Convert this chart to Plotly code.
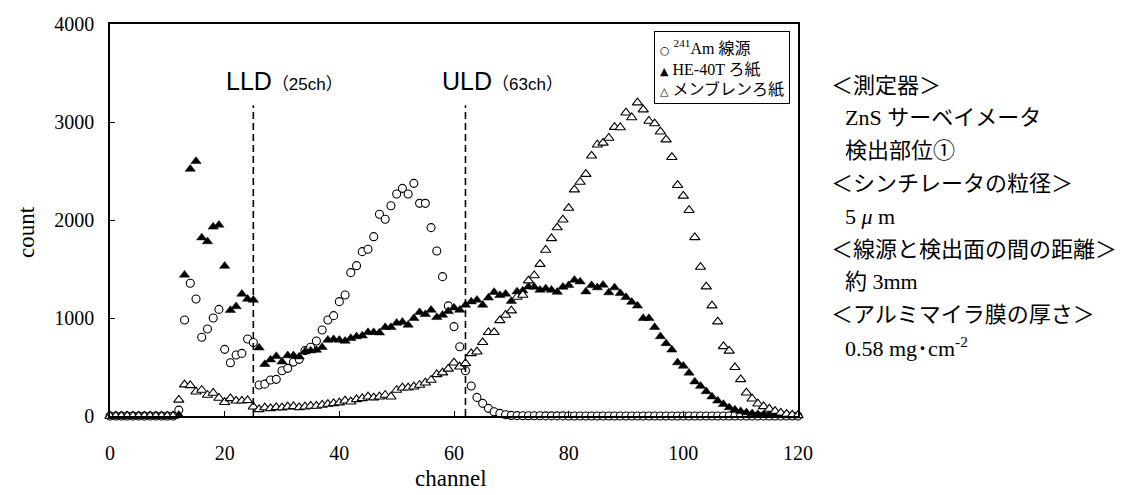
import plotly.graph_objects as go

# ---- data: counts per channel (0..120) ----
channel = list(range(121))

am241 = [
    0, 0, 0, 0, 0, 0, 0, 0, 0, 0,
    0, 0, 60, 980, 1354, 1194, 803, 888, 1000, 1088,
    680, 544, 622, 639, 786, 750, 316, 325, 367, 374,
    462, 486, 550, 578, 667, 701, 765, 878, 980, 1024,
    1167, 1235, 1463, 1534, 1677, 1701, 1830, 2058, 2007, 2146,
    2265, 2323, 2265, 2374, 2170, 2170, 1922, 1684, 1422, 1124,
    912, 707, 462, 306, 190, 129, 78, 44, 27, 12,
    6, 4, 3, 2, 2, 2, 1, 1, 1, 1,
    0, 0, 0, 0, 0, 0, 0, 0, 0, 0,
    0, 0, 0, 0, 0, 0, 0, 0, 0, 0,
    0, 0, 0, 0, 0, 0, 0, 0, 0, 0,
    0, 0, 0, 0, 0, 0, 0, 0, 0, 0,
    0,
]

he40t = [
    0, 0, 0, 0, 0, 0, 0, 0, 0, 0,
    0, 0, 10, 1440, 2520, 2600, 1820, 1780, 1930, 1950,
    1530, 1080, 1118, 1245, 1194, 1184, 697, 528, 575, 610,
    554, 617, 617, 605, 656, 667, 673, 701, 776, 782,
    776, 765, 793, 810, 820, 854, 854, 850, 905, 905,
    949, 959, 929, 997, 1058, 1037, 1082, 1007, 1031, 1068,
    1105, 1082, 1133, 1167, 1184, 1133, 1206, 1264, 1231, 1245,
    1172, 1269, 1279, 1320, 1316, 1286, 1300, 1286, 1265, 1316,
    1333, 1388, 1371, 1269, 1333, 1310, 1337, 1259, 1310, 1252,
    1211, 1163, 1124, 997, 997, 906, 812, 741, 675, 545,
    510, 440, 350, 305, 250, 197, 155, 120, 86, 65,
    48, 35, 25, 18, 14, 10, 8, 6, 5, 4,
    3,
]

membrane = [
    0, 0, 0, 0, 0, 0, 0, 0, 0, 0,
    0, 0, 165, 320, 313, 248, 265, 214, 235, 184,
    141, 180, 155, 155, 160, 95, 68, 86, 78, 88,
    85, 95, 98, 88, 95, 102, 102, 112, 122, 129,
    136, 156, 146, 170, 180, 197, 187, 197, 214, 197,
    265, 289, 289, 299, 316, 340, 367, 425, 443, 481,
    544, 503, 537, 639, 656, 752, 854, 854, 976, 1031,
    1075, 1214, 1235, 1381, 1434, 1550, 1694, 1813, 1923, 2003,
    2122, 2310, 2388, 2468, 2655, 2768, 2787, 2837, 2948, 2944,
    3095, 3046, 3198, 3126, 3010, 2984, 2901, 2820, 2641, 2355,
    2246, 2100, 1823, 1520, 1320, 1126, 963, 710, 665, 497,
    374, 238, 176, 125, 98, 72, 50, 32, 20, 12,
    8,
]

series_names = ["<sup>241</sup>Am 線源", "HE-40T ろ紙", "メンブレンろ紙"]
series_keys = ["○", "▲", "△"]

lld_ch = 25
uld_ch = 62
lld_label = "LLD"
lld_note = "（25ch）"
uld_label = "ULD"
uld_note = "（63ch）"

notes = [
    ("＜測定器＞", 0),
    ("ZnS サーベイメータ", 1),
    ("検出部位①", 1),
    ("＜シンチレータの粒径＞", 0),
    ("5 <i>μ</i> m", 1),
    ("＜線源と検出面の間の距離＞", 0),
    ("約 3mm", 1),
    ("＜アルミマイラ膜の厚さ＞", 0),
    ("0.58 mg･cm<sup>-2</sup>", 1),
]

SERIF = "Liberation Serif, Times New Roman, Noto Sans CJK JP"
SANS = "Liberation Sans, Arial, Noto Sans CJK JP"

# plot-area geometry in pixels
W, H = 1123, 495
L, R, T, B = 110, 325, 24, 79
PW = W - L - R
PH = H - T - B


def px_x(px):
    return (px - L) / PW


def px_y(py):
    return (H - B - py) / PH


fig = go.Figure()

fig.add_trace(go.Scatter(
    x=channel, y=am241, name=series_names[0], mode="markers",
    marker=dict(symbol="circle", size=8, color="white",
                line=dict(color="black", width=1.1)),
    cliponaxis=False, showlegend=False,
))
fig.add_trace(go.Scatter(
    x=channel, y=he40t, name=series_names[1], mode="markers",
    marker=dict(symbol="triangle-up", size=9, color="black",
                line=dict(color="black", width=0.5)),
    cliponaxis=False, showlegend=False,
))
fig.add_trace(go.Scatter(
    x=channel, y=membrane, name=series_names[2], mode="markers",
    marker=dict(symbol="triangle-up", size=9, color="white",
                line=dict(color="black", width=1.1)),
    cliponaxis=False, showlegend=False,
))

# threshold lines
for ch in (lld_ch, uld_ch):
    fig.add_shape(type="line", xref="x", yref="y", x0=ch, x1=ch, y0=0, y1=3170,
                  line=dict(color="black", width=1.6, dash="7px,4px"))

annotations = []

# boxed key for the three series
key_style = "font-family:DejaVu Sans;font-size:11px"
key_lines = [f"<span style='{key_style}'>{k}</span> {n}"
             for k, n in zip(series_keys, series_names)]
annotations.append(dict(
    xref="paper", yref="paper", x=px_x(654), y=px_y(31),
    xanchor="left", yanchor="top", showarrow=False, align="left",
    text="<br>".join(key_lines),
    font=dict(family=SERIF, size=16, color="black"),
    bordercolor="black", borderwidth=1, borderpad=5, bgcolor="white",
))

annotations.append(dict(
    xref="paper", yref="paper", x=px_x(224), y=px_y(81),
    xanchor="left", yanchor="middle", showarrow=False,
    text=f"{lld_label}<span style='font-size:17px'>{lld_note}</span>",
    font=dict(family=SANS, size=25, color="black"),
))
annotations.append(dict(
    xref="paper", yref="paper", x=px_x(440), y=px_y(81),
    xanchor="left", yanchor="middle", showarrow=False,
    text=f"{uld_label}<span style='font-size:17px'>{uld_note}</span>",
    font=dict(family=SANS, size=25, color="black"),
))

# side notes
y0, dy = 85, 32.8
for i, (txt, indent) in enumerate(notes):
    annotations.append(dict(
        xref="paper", yref="paper",
        x=px_x(829 + 14 * indent), y=px_y(y0 + i * dy),
        xanchor="left", yanchor="middle", showarrow=False, text=txt,
        font=dict(family=SERIF, size=22, color="black"),
    ))

# axis titles
annotations.append(dict(
    xref="paper", yref="paper", x=px_x(27), y=px_y(232),
    xanchor="center", yanchor="middle", showarrow=False, text="count",
    textangle=-90, font=dict(family=SERIF, size=23, color="black"),
))
annotations.append(dict(
    xref="paper", yref="paper", x=px_x(451), y=px_y(478),
    xanchor="center", yanchor="middle", showarrow=False, text="channel",
    font=dict(family=SERIF, size=23, color="black"),
))

axis_common = dict(
    showline=True, linecolor="black", linewidth=1.6, mirror=True,
    showgrid=False, zeroline=False, ticks="inside", ticklen=5,
    tickcolor="black", tickwidth=1,
    tickfont=dict(family=SERIF, size=20, color="black"),
)

fig.update_xaxes(range=[0, 120], dtick=20, tick0=0, ticklabelstandoff=18, **axis_common)
fig.update_yaxes(range=[0, 4000], dtick=1000, tick0=0, ticklabelstandoff=10, **axis_common)

fig.update_layout(
    width=W, height=H,
    margin=dict(l=L, r=R, t=T, b=B, pad=0),
    plot_bgcolor="white", paper_bgcolor="white",
    showlegend=False,
    annotations=annotations,
)

fig.write_html("out.html")
